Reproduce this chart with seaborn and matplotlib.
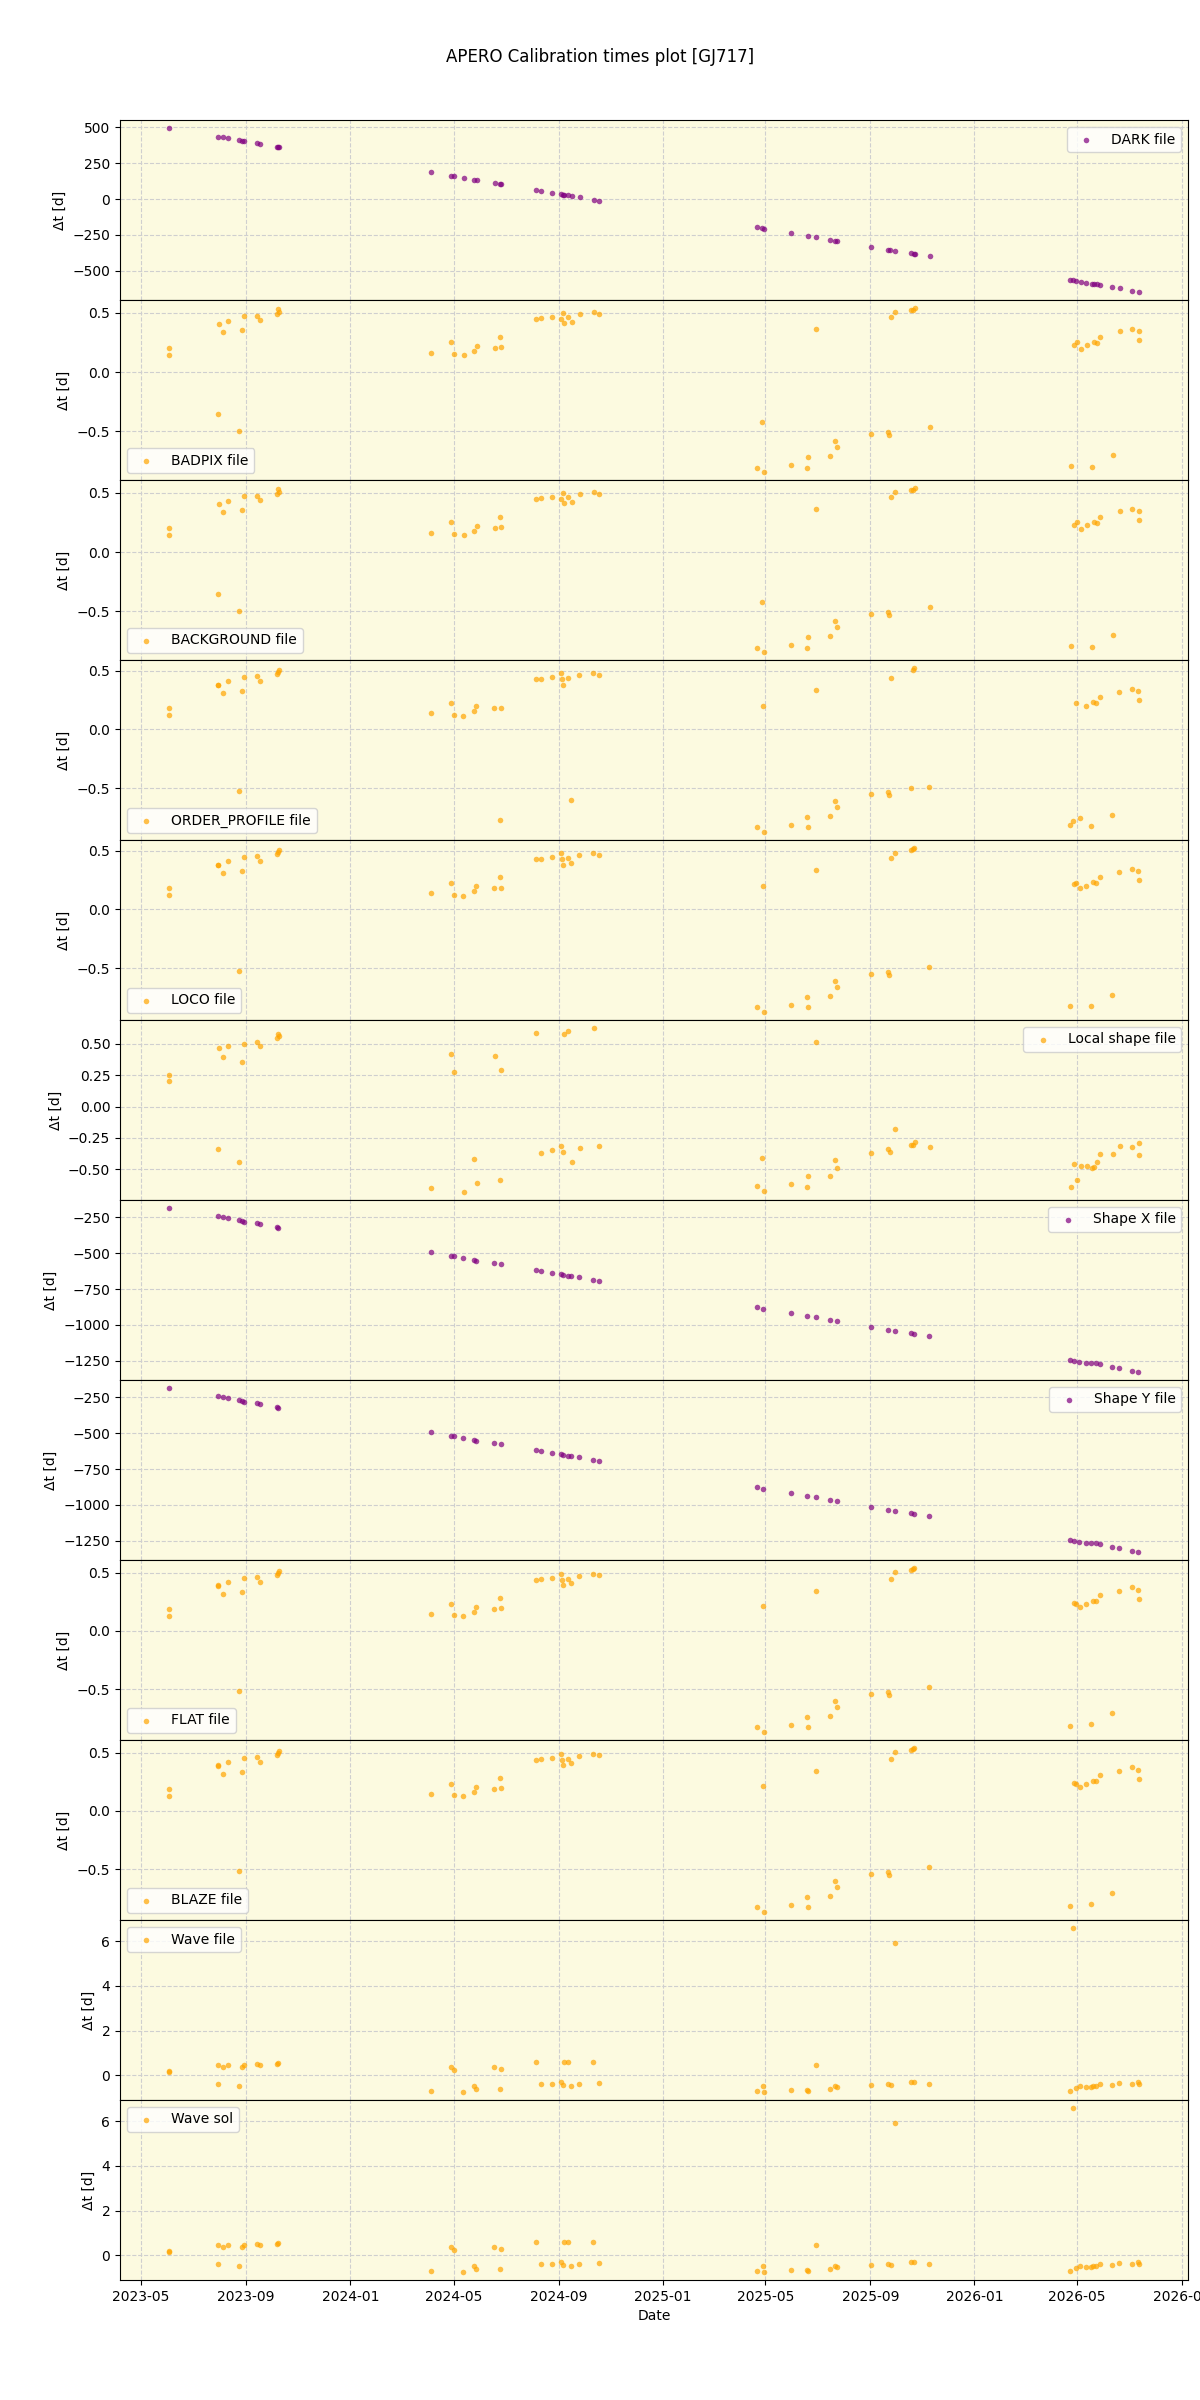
import pandas as pd
import matplotlib
matplotlib.use("Agg")
import matplotlib.pyplot as plt
import matplotlib.dates as mdates
import seaborn as sns

# observation dates are stored as days since 2023-05-01, paired with delta-t in days
base_date = pd.Timestamp("2023-05-01")

dark = [
    (32.8, 493), (90.2, 435), (96.0, 433), (101.8, 424), (114.9, 410), (118.0, 405), (120.2, 403),
    (135.9, 389), (139.5, 382), (158.8, 361), (160.6, 361), (162.0, 361),
    (340.0, 187), (362.9, 160), (366.9, 160), (377.7, 146), (390.2, 132), (392.9, 132), (414.0, 111),
    (420.7, 104), (422.0, 104), (462.9, 62), (468.7, 56), (481.7, 42), (492.0, 35), (493.8, 28),
    (495.2, 30), (500.1, 25), (504.2, 21), (513.6, 14), (530.2, -7), (536.4, -14),
    (721.7, -194), (727.1, -201), (729.8, -208), (761.7, -236), (781.0, -257), (790.8, -264),
    (807.0, -285), (812.8, -290), (815.5, -292), (855.4, -333), (874.7, -354), (876.9, -356),
    (883.2, -361), (902.0, -375), (905.2, -380), (906.5, -382), (923.6, -396),
    (1088.2, -562), (1091.7, -567), (1095.3, -569), (1100.3, -576), (1107.0, -583), (1113.7, -590),
    (1116.4, -590), (1119.5, -590), (1123.6, -597), (1137.5, -611), (1146.0, -618), (1160.8, -637),
    (1168.4, -646),
]

badpix = [
    (32.8, 0.203), (32.8, 0.147), (90.2, -0.353), (91.5, 0.404), (96.0, 0.336), (101.8, 0.435),
    (114.9, -0.494), (118.0, 0.353), (120.2, 0.475), (135.9, 0.475), (139.5, 0.438), (158.8, 0.494),
    (160.6, 0.534), (162.0, 0.508),
    (340.0, 0.161), (362.9, 0.251), (366.9, 0.150), (377.7, 0.141), (390.2, 0.178), (392.9, 0.218),
    (414.0, 0.203), (420.7, 0.297), (422.0, 0.212), (462.9, 0.452), (468.7, 0.455), (481.7, 0.466),
    (492.0, 0.449), (493.8, 0.503), (495.2, 0.412), (500.1, 0.463), (504.2, 0.424), (513.6, 0.489),
    (530.2, 0.508), (536.4, 0.494),
    (721.7, -0.808), (727.6, -0.418), (729.8, -0.842), (761.7, -0.788), (780.0, -0.808), (781.4, -0.720),
    (790.8, 0.362), (807.0, -0.712), (813.2, -0.585), (815.5, -0.636), (855.4, -0.525), (874.7, -0.503),
    (876.0, -0.528), (877.8, 0.463), (883.2, 0.506), (902.0, 0.528), (904.3, 0.523), (906.5, 0.540),
    (923.6, -0.463),
    (1088.6, -0.797), (1092.2, 0.232), (1095.8, 0.251), (1100.3, 0.198), (1107.5, 0.226), (1113.3, -0.799),
    (1115.5, 0.254), (1119.1, 0.249), (1123.6, 0.297), (1137.9, -0.703), (1146.0, 0.345), (1160.8, 0.367),
    (1168.4, 0.268), (1169.3, 0.345),
]

background = list(badpix)

order_profile = [
    (32.1, 0.178), (32.1, 0.121), (90.5, 0.380), (90.5, 0.373), (95.4, 0.308), (101.2, 0.412),
    (114.3, -0.520), (118.4, 0.328), (120.1, 0.446), (135.7, 0.452), (139.0, 0.412), (158.8, 0.469),
    (160.6, 0.489), (162.0, 0.503),
    (339.5, 0.136), (362.6, 0.223), (366.7, 0.124), (376.5, 0.116), (389.7, 0.153), (392.1, 0.195),
    (413.5, 0.178), (420.1, -0.766), (421.7, 0.186), (462.8, 0.429), (467.8, 0.432), (481.7, 0.441),
    (491.6, 0.475), (492.5, 0.424), (494.1, 0.381), (499.8, 0.438), (503.9, -0.596), (513.0, 0.460),
    (529.4, 0.480), (536.0, 0.466),
    (721.7, -0.833), (728.3, 0.203), (730.0, -0.870), (761.2, -0.814), (780.1, -0.746), (780.6, -0.833),
    (790.0, 0.336), (807.2, -0.737), (812.2, -0.610), (814.6, -0.658), (854.9, -0.551), (874.6, -0.528),
    (875.4, -0.554), (877.9, 0.435), (901.7, -0.497), (904.2, 0.503), (905.8, 0.520), (923.1, -0.486),
    (1087.5, -0.816), (1091.6, -0.782), (1094.9, 0.226), (1099.8, -0.754), (1107.2, 0.201), (1112.9, -0.822),
    (1115.4, 0.234), (1117.9, 0.223), (1122.8, 0.277), (1136.8, -0.723), (1145.8, 0.316), (1160.6, 0.347),
    (1168.0, 0.322), (1168.6, 0.246),
]

loco = [
    (32.1, 0.178), (32.1, 0.121), (90.5, 0.380), (90.5, 0.373), (95.4, 0.308), (101.2, 0.412),
    (114.3, -0.520), (118.4, 0.328), (120.1, 0.446), (135.7, 0.452), (139.0, 0.412), (158.8, 0.469),
    (160.6, 0.489), (162.0, 0.503),
    (339.5, 0.136), (362.6, 0.223), (366.7, 0.124), (376.5, 0.116), (389.7, 0.153), (392.1, 0.195),
    (413.5, 0.178), (420.1, 0.271), (421.7, 0.186), (462.8, 0.429), (467.8, 0.432), (481.7, 0.441),
    (491.6, 0.475), (492.5, 0.424), (494.1, 0.381), (499.8, 0.438), (503.9, 0.398), (513.0, 0.460),
    (529.4, 0.480), (536.0, 0.466),
    (721.7, -0.833), (728.3, 0.203), (730.0, -0.870), (761.2, -0.814), (780.1, -0.746), (780.6, -0.833),
    (790.0, 0.336), (807.2, -0.737), (812.2, -0.610), (814.6, -0.658), (854.9, -0.551), (874.6, -0.528),
    (875.4, -0.554), (877.9, 0.435), (882.9, 0.483), (901.7, 0.503), (904.2, 0.511), (905.8, 0.520),
    (923.1, -0.486),
    (1087.5, -0.819), (1092.4, 0.212), (1094.9, 0.226), (1099.8, 0.178), (1107.2, 0.201), (1112.9, -0.822),
    (1115.4, 0.234), (1117.9, 0.223), (1122.8, 0.277), (1136.8, -0.723), (1145.8, 0.316), (1160.6, 0.347),
    (1168.0, 0.322), (1168.6, 0.246),
]

local_shape = [
    (32.8, 0.252), (32.8, 0.207), (90.2, -0.338), (91.5, 0.468), (96.0, 0.393), (101.8, 0.481),
    (114.9, -0.444), (118.0, 0.356), (120.2, 0.500), (135.9, 0.516), (139.5, 0.481), (158.8, 0.543),
    (160.6, 0.575), (162.0, 0.561),
    (340.0, -0.647), (362.9, 0.417), (366.9, 0.279), (377.7, -0.679), (390.2, -0.415), (392.9, -0.607),
    (414.0, 0.404), (420.7, -0.586), (422.0, 0.295), (462.9, 0.585), (468.7, -0.372), (481.7, -0.346),
    (492.0, -0.311), (493.8, -0.364), (494.7, 0.580), (500.1, 0.604), (504.2, -0.439), (513.6, -0.330),
    (530.2, 0.625), (536.4, -0.316),
    (721.7, -0.631), (727.6, -0.412), (729.8, -0.671), (761.7, -0.618), (780.0, -0.639), (781.4, -0.549),
    (790.8, 0.513), (807.0, -0.551), (813.2, -0.423), (815.5, -0.487), (855.4, -0.367), (874.7, -0.335),
    (877.0, -0.362), (883.2, -0.175), (902.0, -0.308), (904.3, -0.308), (906.5, -0.279), (923.6, -0.319),
    (1088.6, -0.637), (1092.2, -0.458), (1095.8, -0.581), (1100.3, -0.471), (1107.5, -0.474), (1113.3, -0.490),
    (1115.5, -0.482), (1119.1, -0.439), (1123.6, -0.375), (1137.9, -0.375), (1146.0, -0.314), (1160.8, -0.324),
    (1168.4, -0.383), (1169.3, -0.287),
]

shape_x = [
    (32.1, -187), (90.5, -243), (95.4, -250), (101.2, -257), (114.3, -268), (118.4, -278), (120.1, -280),
    (135.7, -292), (139.0, -296), (159.5, -315), (160.4, -322),
    (339.5, -493), (362.6, -518), (366.7, -523), (376.5, -535), (389.7, -549), (392.1, -553), (413.5, -567),
    (421.7, -576), (462.8, -618), (467.8, -625), (481.7, -639), (491.6, -646), (494.1, -653), (499.8, -657),
    (503.9, -662), (513.0, -667), (529.4, -687), (536.0, -694),
    (721.7, -875), (728.3, -887), (761.2, -917), (780.1, -937), (790.0, -944), (807.2, -963), (814.6, -970),
    (854.9, -1014), (874.6, -1035), (882.9, -1042), (901.7, -1055), (905.8, -1062), (923.1, -1076),
    (1087.5, -1243), (1092.4, -1248), (1098.2, -1255), (1107.2, -1262), (1112.9, -1268), (1117.9, -1268),
    (1122.8, -1275), (1136.8, -1292), (1145.8, -1299), (1160.6, -1317), (1168.0, -1326),
]

shape_y = list(shape_x)

flat = [
    (32.1, 0.186), (32.1, 0.130), (90.5, 0.390), (90.5, 0.381), (95.4, 0.316), (101.2, 0.421),
    (114.3, -0.511), (118.4, 0.336), (120.1, 0.455), (135.7, 0.460), (139.0, 0.421), (158.8, 0.477),
    (160.6, 0.497), (162.0, 0.511),
    (339.5, 0.144), (362.6, 0.232), (366.7, 0.133), (376.5, 0.124), (389.7, 0.161), (392.1, 0.203),
    (413.5, 0.186), (420.1, 0.280), (421.7, 0.195), (462.8, 0.438), (467.8, 0.441), (481.7, 0.449),
    (491.6, 0.483), (492.5, 0.432), (494.1, 0.390), (499.8, 0.446), (503.9, 0.407), (513.0, 0.469),
    (529.4, 0.489), (536.0, 0.475),
    (721.7, -0.825), (728.3, 0.212), (730.0, -0.862), (761.2, -0.805), (780.1, -0.737), (780.6, -0.825),
    (790.0, 0.345), (807.2, -0.729), (812.2, -0.602), (814.6, -0.650), (854.9, -0.542), (874.6, -0.520),
    (875.4, -0.545), (877.9, 0.444), (882.9, 0.508), (901.7, 0.520), (904.2, 0.528), (905.8, 0.537),
    (923.1, -0.477),
    (1087.5, -0.811), (1092.4, 0.243), (1094.9, 0.234), (1099.8, 0.206), (1107.2, 0.229), (1112.9, -0.794),
    (1115.4, 0.257), (1117.9, 0.257), (1122.8, 0.305), (1136.8, -0.698), (1145.8, 0.345), (1160.6, 0.376),
    (1168.0, 0.347), (1168.6, 0.271),
]

blaze = list(flat)

wave = [
    (32.1, 0.22), (32.1, 0.15), (90.5, 0.45), (90.5, -0.36), (95.4, 0.40), (101.2, 0.48), (114.3, -0.45),
    (118.4, 0.37), (120.1, 0.48), (135.7, 0.50), (139.0, 0.48), (159.5, 0.53), (160.4, 0.56),
    (339.5, -0.68), (362.6, 0.40), (366.7, 0.25), (376.5, -0.73), (389.7, -0.45), (392.1, -0.62),
    (413.5, 0.39), (420.1, -0.62), (421.7, 0.28), (462.8, 0.58), (467.8, -0.40), (481.7, -0.36),
    (491.6, -0.31), (494.1, -0.43), (495.0, 0.58), (499.8, 0.58), (503.9, -0.45), (513.0, -0.36),
    (529.4, 0.62), (536.0, -0.34),
    (721.7, -0.68), (728.3, -0.45), (730.0, -0.73), (761.2, -0.64), (780.1, -0.64), (781.0, -0.70),
    (790.0, 0.48), (807.2, -0.59), (812.2, -0.45), (814.6, -0.52), (854.9, -0.42), (874.6, -0.37),
    (877.9, -0.43), (882.9, 5.91), (901.7, -0.31), (905.8, -0.31), (923.1, -0.36),
    (1087.5, -0.68), (1091.6, 6.58), (1094.9, -0.58), (1099.8, -0.48), (1107.2, -0.51), (1112.9, -0.52),
    (1115.4, -0.48), (1117.9, -0.45), (1122.8, -0.40), (1136.8, -0.42), (1145.8, -0.33), (1160.6, -0.36),
    (1168.0, -0.30), (1169.0, -0.36),
]

wave_sol = list(wave)

panels = [
    ("DARK file", dark, "purple", "upper right"),
    ("BADPIX file", badpix, "orange", "lower left"),
    ("BACKGROUND file", background, "orange", "lower left"),
    ("ORDER_PROFILE file", order_profile, "orange", "lower left"),
    ("LOCO file", loco, "orange", "lower left"),
    ("Local shape file", local_shape, "orange", "upper right"),
    ("Shape X file", shape_x, "purple", "upper right"),
    ("Shape Y file", shape_y, "purple", "upper right"),
    ("FLAT file", flat, "orange", "lower left"),
    ("BLAZE file", blaze, "orange", "lower left"),
    ("Wave file", wave, "orange", "upper left"),
    ("Wave sol", wave_sol, "orange", "upper left"),
]

fig, axes = plt.subplots(len(panels), 1, figsize=(12, 24), sharex=True)
fig.subplots_adjust(left=0.1, right=0.99, top=0.95, bottom=0.05, hspace=0)

for ax, (label, pts, color, loc) in zip(axes, panels):
    df = pd.DataFrame(pts, columns=["day", "dt"])
    df["date"] = base_date + pd.to_timedelta(df["day"], unit="D")
    ax.set_facecolor("#fcfae0")
    sns.scatterplot(data=df, x="date", y="dt", ax=ax, color=color, alpha=0.7,
                    s=16, linewidth=0, label=label)
    ax.grid(True, linestyle="--", color="#cfcfcf", linewidth=0.8)
    ax.set_axisbelow(True)
    ax.set_ylabel("Δt [d]")
    ax.set_xlabel("")
    ax.legend(loc=loc)

axes[-1].xaxis.set_major_locator(mdates.MonthLocator(bymonth=[1, 5, 9]))
axes[-1].xaxis.set_major_formatter(mdates.DateFormatter("%Y-%m"))
axes[-1].set_xlabel("Date")

fig.suptitle("APERO Calibration times plot [GJ717]")
fig.savefig("out.png", dpi=100)
